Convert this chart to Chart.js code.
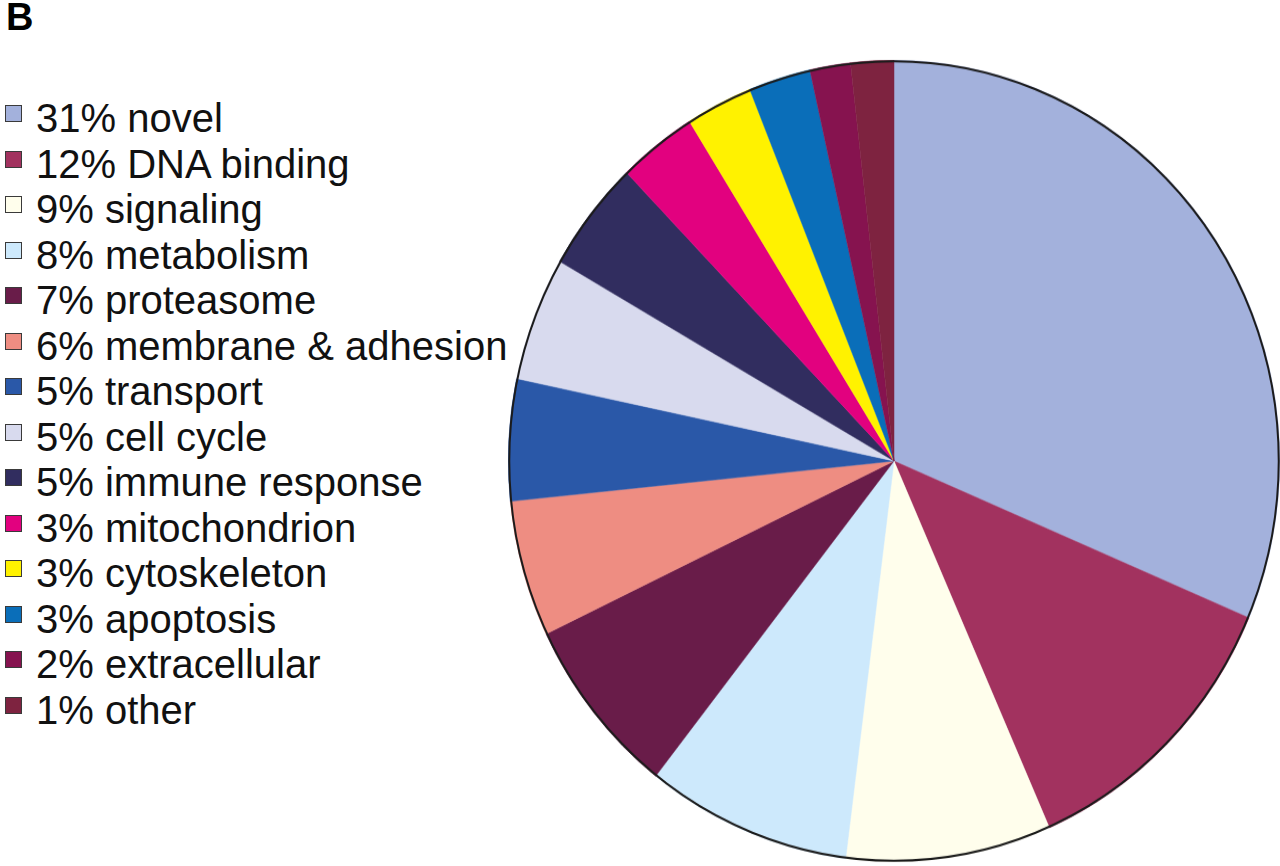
<!DOCTYPE html>
<html>
<head>
<meta charset="utf-8">
<script src="https://cdn.jsdelivr.net/npm/chart.js@4/dist/chart.umd.min.js"></script>
<style>
  html, body { margin: 0; padding: 0; background: #fff; }
  body { width: 1280px; height: 866px; position: relative; overflow: hidden; font-family: "Liberation Sans", Arial, sans-serif; color: #111; }
  #panel-letter { position: absolute; left: 6px; top: -4px; font-size: 38px; font-weight: bold; color: #000; }
  #legend { position: absolute; left: 0; top: 96px; margin: 0; padding: 0; list-style: none; }
  #legend li { position: relative; height: 45.5px; line-height: 45.5px; font-size: 40px; padding-left: 36px; white-space: nowrap; }
  #legend .swatch { position: absolute; left: 5px; top: 9px; width: 15px; height: 15px; border: 1px solid #3a3a3a; }
  #pie-wrap { position: absolute; left: 508px; top: 75px; width: 772px; height: 772px; transform: scaleY(1.039); transform-origin: 50% 50%; }
</style>
</head>
<body>
<div id="panel-letter">B</div>
<ul id="legend"></ul>
<div id="pie-wrap"><canvas id="chart-pie" width="772" height="772"></canvas></div>

<script>
// categories, in the order they go clockwise from 12 o'clock
const categories = [
  "novel", "DNA binding", "signaling", "metabolism", "proteasome",
  "membrane & adhesion", "transport", "cell cycle", "immune response",
  "mitochondrion", "cytoskeleton", "apoptosis", "extracellular", "other",
];

// percentages as printed in the legend
const legendPct = [31, 12, 9, 8, 7, 6, 5, 5, 5, 3, 3, 3, 2, 1];

const sliceValues = [31.4, 12.0, 8.6, 8.6, 7.3, 5.5, 4.9, 5.0, 4.5, 3.3, 2.8, 2.6, 1.7, 1.8];

const sliceColors = [
  "#a3b1dc", "#a2325f", "#fffeec", "#cde9fc", "#691c49",
  "#ee8d82", "#2a58a8", "#d8daee", "#312d5f", "#e2017f",
  "#fff200", "#0a6eb9", "#86134f", "#7e2340",
];

const legendEl = document.getElementById("legend");
categories.forEach((name, i) => {
  const li = document.createElement("li");
  const sw = document.createElement("span");
  sw.className = "swatch";
  sw.style.background = sliceColors[i];
  li.appendChild(sw);
  li.appendChild(document.createTextNode(`${legendPct[i]}% ${name}`));
  legendEl.appendChild(li);
});

// thin dark rim round the outside only, no lines between the wedges
const outerRim = {
  id: "outerRim",
  afterDatasetsDraw(chart) {
    const arc = chart.getDatasetMeta(0).data[0];
    if (!arc) return;
    const ctx = chart.ctx;
    ctx.save();
    ctx.beginPath();
    ctx.arc(arc.x, arc.y, arc.outerRadius - 1, 0, Math.PI * 2);
    ctx.lineWidth = 2;
    ctx.strokeStyle = "#1b1b1b";
    ctx.stroke();
    ctx.restore();
  },
};

new Chart(document.getElementById("chart-pie").getContext("2d"), {
  type: "pie",
  data: {
    labels: categories,
    datasets: [{
      data: sliceValues,
      backgroundColor: sliceColors,
      borderColor: sliceColors,
      borderWidth: 0.5,
    }],
  },
  options: {
    responsive: false,
    animation: false,
    layout: { padding: 0 },
    plugins: {
      legend: { display: false },
      tooltip: { enabled: false },
    },
  },
  plugins: [outerRim],
});
</script>
</body>
</html>
